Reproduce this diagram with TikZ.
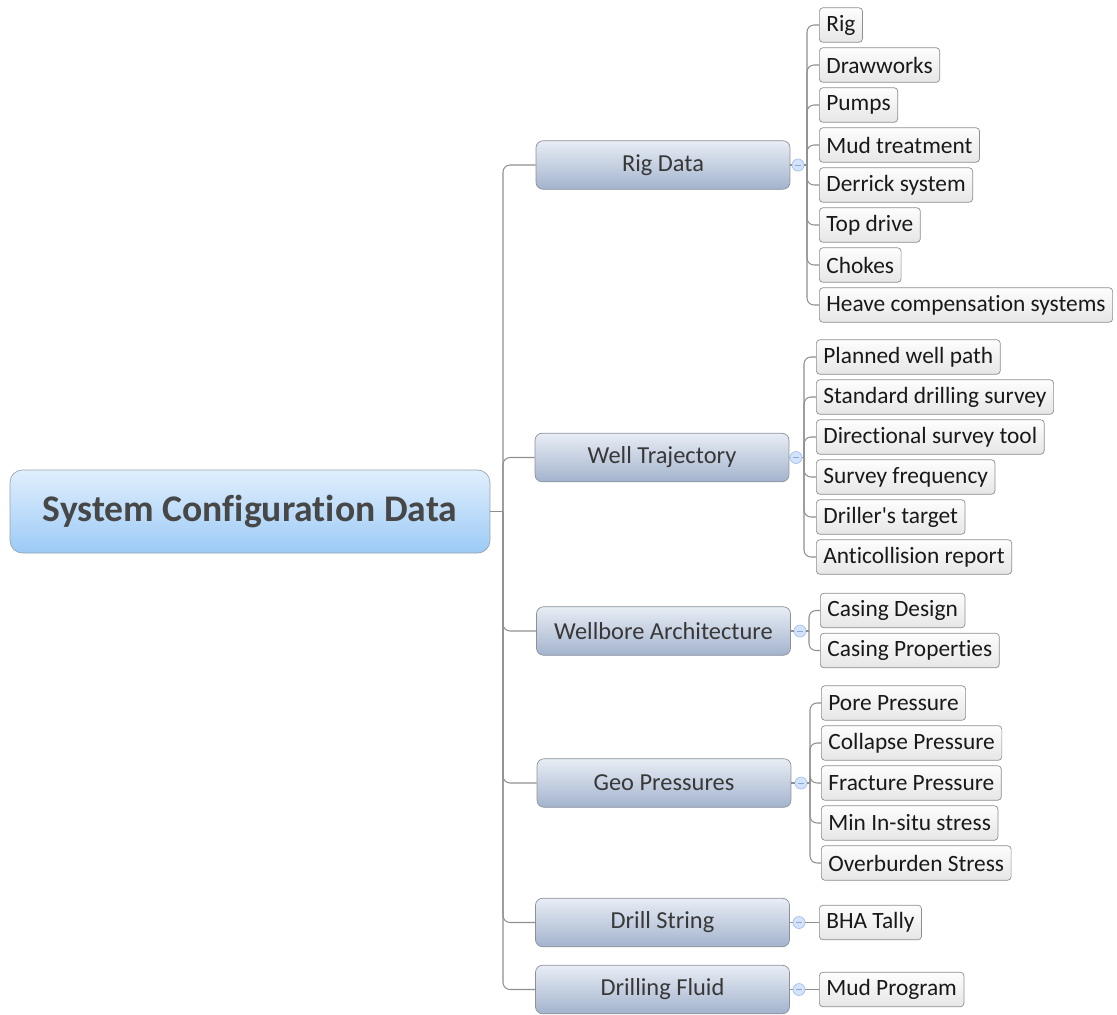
\documentclass[tikz,border=0pt]{standalone}
\usepackage{fontspec}
\setmainfont{Carlito}[Ligatures={NoCommon}]
\usetikzlibrary{positioning}

\definecolor{rootTop}{HTML}{E0EFFD}
\definecolor{rootBot}{HTML}{9CCAF6}
\definecolor{rootLine}{HTML}{97A3AE}
\definecolor{topicTop}{HTML}{E8EDF5}
\definecolor{topicBot}{HTML}{A3B3CD}
\definecolor{topicLine}{HTML}{8A919C}
\definecolor{leafTop}{HTML}{FDFDFD}
\definecolor{leafBot}{HTML}{E6E6E6}
\definecolor{leafLine}{HTML}{8E8E8E}
\definecolor{connGray}{HTML}{8F8F8F}
\definecolor{knobFill}{HTML}{D3E3FB}
\definecolor{knobLine}{HTML}{A6C1EE}
\definecolor{knobDash}{HTML}{8AA8D8}

\begin{document}
\begin{tikzpicture}[
  x=0.02cm, y=-0.02cm,
  root/.style={draw=rootLine, rounded corners=7pt, top color=rootTop, bottom color=rootBot,
    minimum width=9.6cm, minimum height=1.66cm, text=black!72,
    font=\fontsize{21.4}{25}\selectfont\bfseries},
  topic/.style={draw=topicLine, rounded corners=4pt, top color=topicTop, bottom color=topicBot,
    minimum width=5.08cm, minimum height=0.97cm, text=black!78,
    font=\fontsize{13.9}{16}\selectfont},
  leaf/.style={draw=leafLine, rounded corners=2pt, top color=leafTop, bottom color=leafBot,
    anchor=west, minimum height=0.69cm, inner xsep=4pt, text=black!90,
    font=\fontsize{13.3}{16}\selectfont},
  knob/.style={circle, draw=knobLine, fill=knobFill, minimum size=0.24cm, inner sep=0pt,
    path picture={\draw[knobDash, line width=0.5pt] ([xshift=-1.7pt]path picture bounding box.center)
      -- ([xshift=1.7pt]path picture bounding box.center);}},
  conn/.style={draw=connGray, line width=0.6pt, rounded corners=4pt},
]
\useasboundingbox (0,0) rectangle (1117,1015);

% --- Root ---
\node[root] (sys) at (250,511.5) {System Configuration Data};
\coordinate (trunk) at (503,511.5);
\draw[conn] (sys.east) -- (trunk);

% --- Main topics ---
\node[topic] (rigdata) at (663,165) {Rig Data};
\node[topic] (welltraj) at (662,457.5) {Well Trajectory};
\node[topic] (wellbore) at (663.5,631) {Wellbore Architecture};
\node[topic] (geo) at (664,783) {Geo Pressures};
\node[topic] (dstring) at (662.5,922.5) {Drill String};
\node[topic] (dfluid) at (662.5,989.5) {Drilling Fluid};

\foreach \t in {rigdata,welltraj,wellbore,geo,dstring,dfluid}
  \draw[conn] (trunk) |- (\t.west);

% --- Collapse knobs ---
\node[knob] (rigk) at (798,165) {};
\node[knob] (trajk) at (796,457.5) {};
\node[knob] (borek) at (800,631) {};
\node[knob] (geok) at (801,783) {};
\node[knob] (strk) at (799,922.5) {};
\node[knob] (fluk) at (799,989.5) {};

\draw[conn] (rigdata.east) -- (rigk);
\draw[conn] (welltraj.east) -- (trajk);
\draw[conn] (wellbore.east) -- (borek);
\draw[conn] (geo.east) -- (geok);
\draw[conn] (dstring.east) -- (strk);
\draw[conn] (dfluid.east) -- (fluk);

% --- Rig Data ---
\coordinate (rigsp) at (807,165);
\draw[conn] (rigk) -- (rigsp);
\foreach \y/\txt [count=\i] in {25/Rig, 65/Drawworks, 105/Pumps, 145/Mud treatment,
    185/Derrick system, 225/Top drive, 265/Chokes, 305/Heave compensation systems} {
  \node[leaf] (rig\i) at (819,\y) {\txt};
  \draw[conn] (rigsp) |- (rig\i.west);
}

% --- Well Trajectory ---
\coordinate (trajsp) at (804,457.5);
\draw[conn] (trajk) -- (trajsp);
\foreach \y/\txt [count=\i] in {357/Planned well path, 397/Standard drilling survey,
    437/Directional survey tool, 477/Survey frequency, 517/Driller\textquotesingle s target,
    557/Anticollision report} {
  \node[leaf] (traj\i) at (816,\y) {\txt};
  \draw[conn] (trajsp) |- (traj\i.west);
}

% --- Wellbore Architecture ---
\coordinate (boresp) at (809,631);
\draw[conn] (borek) -- (boresp);
\node[leaf] (bore1) at (820,610.5) {Casing Design};
\node[leaf] (bore2) at (820,650.5) {Casing Properties};
\draw[conn] (boresp) |- (bore1.west);
\draw[conn] (boresp) |- (bore2.west);

% --- Geo Pressures ---
\coordinate (geosp) at (810,783);
\draw[conn] (geok) -- (geosp);
\foreach \y/\txt [count=\i] in {703/Pore Pressure, 743/Collapse Pressure,
    783/Fracture Pressure, 823/Min In-situ stress, 863/Overburden Stress} {
  \node[leaf] (geo\i) at (821,\y) {\txt};
  \draw[conn] (geosp) |- (geo\i.west);
}

% --- Drill String / Drilling Fluid ---
\node[leaf] (bha) at (819,922.5) {BHA Tally};
\node[leaf] (mud) at (819,989.5) {Mud Program};
\draw[conn] (strk) -- (bha.west);
\draw[conn] (fluk) -- (mud.west);

\end{tikzpicture}
\end{document}
